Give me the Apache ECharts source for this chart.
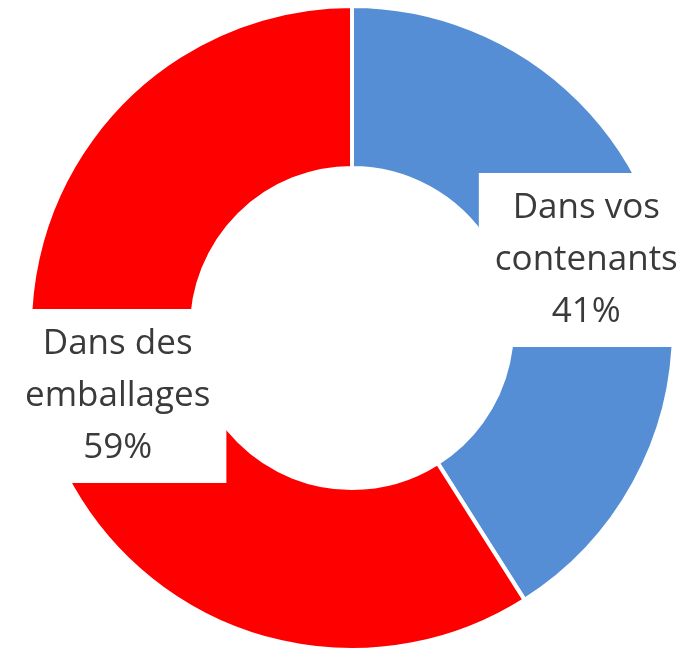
<!DOCTYPE html>
<html lang="fr">
<head>
    <meta charset="UTF-8">
    <title>Répartition</title>
    <script src="https://cdn.jsdelivr.net/npm/echarts@6/dist/echarts.min.js"></script>
    <style>
        html, body { margin: 0; padding: 0; background: #fff; }
        #chart { width: 692px; height: 653px; }
    </style>
</head>
<body>
    <div id="chart"></div>
    <script>
        // données
        const categories = ['Dans vos contenants', 'Dans des emballages'];
        const values = [41, 59];
        const colors = ['#558ed5', '#ff0000'];

        const chart = echarts.init(document.getElementById('chart'));
        chart.setOption({
            animation: false,
            series: [{
                type: 'pie',
                center: [352, 328],
                radius: [160, 322],
                startAngle: 90,
                avoidLabelOverlap: false,
                silent: true,
                data: categories.map(function (name, i) {
                    return { name: name, value: values[i], itemStyle: { color: colors[i] } };
                }),
                itemStyle: {
                    borderColor: '#fff',
                    borderWidth: 4
                },
                label: {
                    show: true,
                    position: 'inside',
                    formatter: function (p) {
                        return p.name.replace(/ (\S+)$/, '\n$1') + '\n' + p.percent + '%';
                    },
                    color: '#3a3a3a',
                    fontFamily: 'Open Sans',
                    fontSize: 35,
                    lineHeight: 52,
                    align: 'center',
                    backgroundColor: '#fff',
                    padding: [9, 16]
                },
                labelLine: { show: false }
            }]
        });
    </script>
</body>
</html>
